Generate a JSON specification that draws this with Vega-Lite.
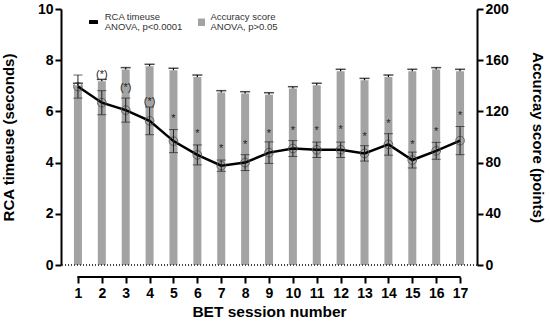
{
  "$schema": "https://vega.github.io/schema/vega-lite/v6.json",
  "width": 416,
  "height": 256,
  "autosize": {"type": "none"},
  "padding": {"left": 61, "top": 9, "right": 73, "bottom": 58},
  "config": {
    "view": {"stroke": null},
    "font": "Liberation Sans",
    "axis": {
      "grid": false,
      "domainColor": "black",
      "domainWidth": 2,
      "tickColor": "black",
      "tickWidth": 2,
      "tickSize": 6,
      "labelFont": "Liberation Sans",
      "labelFontWeight": "bold",
      "labelFontSize": 14,
      "labelColor": "black",
      "titleFont": "Liberation Sans",
      "titleFontWeight": "bold",
      "titleFontSize": 15,
      "titleColor": "black"
    },
    "axisX": {"labelOverlap": false, "labelFlush": false, "titleFontSize": 15.5}
  },
  "datasets": {
    "main": [
      {"s": 1, "acc": 140.5, "acc_hi": 142.0, "rca": 6.97, "lo": 6.52, "hi": 7.42},
      {"s": 2, "acc": 143.5, "acc_hi": 145.0, "rca": 6.34, "lo": 5.87, "hi": 6.81},
      {"s": 3, "acc": 152.7, "acc_hi": 154.2, "rca": 6.05, "lo": 5.58, "hi": 6.52},
      {"s": 4, "acc": 155.3, "acc_hi": 156.8, "rca": 5.63, "lo": 5.09, "hi": 6.17},
      {"s": 5, "acc": 152.2, "acc_hi": 153.7, "rca": 4.84, "lo": 4.39, "hi": 5.29},
      {"s": 6, "acc": 146.9, "acc_hi": 148.4, "rca": 4.30, "lo": 3.91, "hi": 4.69},
      {"s": 7, "acc": 134.7, "acc_hi": 136.2, "rca": 3.88, "lo": 3.66, "hi": 4.10},
      {"s": 8, "acc": 133.9, "acc_hi": 135.4, "rca": 4.00, "lo": 3.69, "hi": 4.31},
      {"s": 9, "acc": 133.1, "acc_hi": 134.6, "rca": 4.39, "lo": 3.97, "hi": 4.81},
      {"s": 10, "acc": 137.8, "acc_hi": 139.3, "rca": 4.55, "lo": 4.24, "hi": 4.86},
      {"s": 11, "acc": 140.5, "acc_hi": 142.0, "rca": 4.50, "lo": 4.20, "hi": 4.80},
      {"s": 12, "acc": 151.4, "acc_hi": 152.9, "rca": 4.50, "lo": 4.20, "hi": 4.80},
      {"s": 13, "acc": 144.3, "acc_hi": 145.8, "rca": 4.36, "lo": 4.06, "hi": 4.66},
      {"s": 14, "acc": 146.9, "acc_hi": 148.4, "rca": 4.71, "lo": 4.29, "hi": 5.13},
      {"s": 15, "acc": 151.4, "acc_hi": 152.9, "rca": 4.10, "lo": 3.79, "hi": 4.41},
      {"s": 16, "acc": 152.7, "acc_hi": 154.2, "rca": 4.46, "lo": 4.13, "hi": 4.79},
      {"s": 17, "acc": 151.4, "acc_hi": 152.9, "rca": 4.86, "lo": 4.31, "hi": 5.41}
    ],
    "stars": [
      {"s": 2, "label": "(*)", "y": 7.53},
      {"s": 3, "label": "(*)", "y": 7.03},
      {"s": 4, "label": "(*)", "y": 6.47},
      {"s": 5, "label": "*", "y": 5.82},
      {"s": 6, "label": "*", "y": 5.25},
      {"s": 7, "label": "*", "y": 4.65},
      {"s": 8, "label": "*", "y": 4.80},
      {"s": 9, "label": "*", "y": 5.25},
      {"s": 10, "label": "*", "y": 5.34},
      {"s": 11, "label": "*", "y": 5.36},
      {"s": 12, "label": "*", "y": 5.40},
      {"s": 13, "label": "*", "y": 5.12},
      {"s": 14, "label": "*", "y": 5.64},
      {"s": 15, "label": "*", "y": 4.82},
      {"s": 16, "label": "*", "y": 5.31},
      {"s": 17, "label": "*", "y": 5.92}
    ]
  },
  "layer": [
    {
      "data": {"name": "main"},
      "layer": [
        {
          "mark": {"type": "bar", "width": 8, "color": "#a3a3a3"},
          "encoding": {
            "x": {
              "field": "s", "type": "quantitative",
              "scale": {"domain": [0.5, 17.5], "nice": false, "zero": false},
              "axis": {
                "values": [1,2,3,4,5,6,7,8,9,10,11,12,13,14,15,16,17],
                "tickCount": 17, "offset": 12, "domain": false, "labelPadding": 3, "titlePadding": 4,
                "labelFlush": false, "labelOverlap": false, "labelSeparation": 0,
                "title": "BET session number"
              }
            },
            "y": {
              "field": "acc", "type": "quantitative",
              "scale": {"domain": [0, 200], "nice": false},
              "axis": {
                "orient": "right", "values": [0,20,40,60,80,100,120,140,160,180,200],
                "labelPadding": 2, "titlePadding": 21, "title": "Accurcay score (points)"
              }
            }
          }
        },
        {
          "mark": {"type": "rule", "color": "black", "strokeWidth": 1.2},
          "encoding": {
            "x": {"field": "s", "type": "quantitative"},
            "y": {"field": "acc", "type": "quantitative"},
            "y2": {"field": "acc_hi"}
          }
        },
        {
          "mark": {"type": "tick", "orient": "horizontal", "color": "black", "size": 10, "thickness": 1.5},
          "encoding": {
            "x": {"field": "s", "type": "quantitative"},
            "y": {"field": "acc_hi", "type": "quantitative"}
          }
        }
      ]
    },
    {
      "layer": [
        {
          "data": {"name": "main"},
          "mark": {"type": "rule", "color": "#444", "strokeWidth": 1, "strokeDash": [1, 2]},
          "encoding": {
            "y": {
              "datum": 0, "type": "quantitative",
              "scale": {"domain": [0, 10], "nice": false},
              "axis": {
                "orient": "left", "values": [0,2,4,6,8,10],
                "labelPadding": 2, "titlePadding": 21, "title": "RCA timeuse (seconds)"
              }
            }
          }
        },
        {
          "data": {"name": "main"},
          "mark": {"type": "rule", "color": "black", "strokeWidth": 2},
          "encoding": {
            "x": {"datum": 1, "type": "quantitative", "axis": {
                "values": [1,2,3,4,5,6,7,8,9,10,11,12,13,14,15,16,17],
                "tickCount": 17, "offset": 12, "domain": false, "labelPadding": 3, "titlePadding": 4,
                "labelFlush": false, "labelOverlap": false, "labelSeparation": 0,
                "title": "BET session number"
              }},
            "x2": {"datum": 17},
            "y": {"datum": -0.47, "type": "quantitative"}
          }
        },
        {
          "data": {"name": "main"},
          "mark": {"type": "line", "color": "black", "strokeWidth": 2.5},
          "encoding": {
            "x": {"field": "s", "type": "quantitative", "axis": {
                "values": [1,2,3,4,5,6,7,8,9,10,11,12,13,14,15,16,17],
                "tickCount": 17, "offset": 12, "domain": false, "labelPadding": 3, "titlePadding": 4,
                "labelFlush": false, "labelOverlap": false, "labelSeparation": 0,
                "title": "BET session number"
              }},
            "y": {"field": "rca", "type": "quantitative"}
          }
        },
        {
          "data": {"name": "main"},
          "mark": {"type": "point", "shape": "circle", "size": 75, "filled": false, "stroke": "#555", "strokeWidth": 0.9, "opacity": 1},
          "encoding": {
            "x": {"field": "s", "type": "quantitative"},
            "y": {"field": "rca", "type": "quantitative"}
          }
        },
        {
          "data": {"name": "main"},
          "mark": {"type": "rule", "color": "#222", "strokeWidth": 1},
          "encoding": {
            "x": {"field": "s", "type": "quantitative"},
            "y": {"field": "lo", "type": "quantitative"},
            "y2": {"field": "hi"}
          }
        },
        {
          "data": {"name": "main"},
          "mark": {"type": "tick", "orient": "horizontal", "color": "#222", "size": 9, "thickness": 1},
          "encoding": {
            "x": {"field": "s", "type": "quantitative"},
            "y": {"field": "lo", "type": "quantitative"}
          }
        },
        {
          "data": {"name": "main"},
          "mark": {"type": "tick", "orient": "horizontal", "color": "#222", "size": 9, "thickness": 1},
          "encoding": {
            "x": {"field": "s", "type": "quantitative"},
            "y": {"field": "hi", "type": "quantitative"}
          }
        },
        {
          "data": {"name": "stars"},
          "mark": {"type": "text", "align": "center", "baseline": "middle", "fontSize": 11, "color": "#222", "dy": 3},
          "encoding": {
            "x": {"field": "s", "type": "quantitative"},
            "y": {"field": "y", "type": "quantitative"},
            "text": {"field": "label"}
          }
        },
        {
          "data": {"name": "main"},
          "mark": {"type": "rule", "color": "black", "strokeWidth": 3},
          "encoding": {
            "x": {"datum": 1.48, "type": "quantitative"},
            "x2": {"datum": 1.82},
            "y": {"datum": 9.48, "type": "quantitative"}
          }
        },
        {
          "data": {"name": "main"},
          "mark": {"type": "point", "shape": "square", "size": 45, "filled": true, "color": "#a3a3a3", "opacity": 1},
          "encoding": {
            "x": {"datum": 6.17, "type": "quantitative"},
            "y": {"datum": 9.48, "type": "quantitative"}
          }
        },
        {
          "data": {"values": [
            {"t": "RCA timeuse", "tx": 2.12, "ty": 9.70, "it": "normal"},
            {"t": "ANOVA, ", "tx": 2.12, "ty": 9.31, "it": "normal"},
            {"t": "p<0.0001", "tx": 3.70, "ty": 9.31, "it": "italic"},
            {"t": "Accuracy score", "tx": 6.55, "ty": 9.70, "it": "normal"},
            {"t": "ANOVA, ", "tx": 6.55, "ty": 9.31, "it": "normal"},
            {"t": "p>0.05", "tx": 8.13, "ty": 9.31, "it": "italic"}
          ]},
          "mark": {"type": "text", "align": "left", "baseline": "middle", "fontSize": 9.5, "color": "#333"},
          "encoding": {
            "x": {"field": "tx", "type": "quantitative"},
            "y": {"field": "ty", "type": "quantitative"},
            "text": {"field": "t"},
            "fontStyle": {"field": "it", "type": "nominal", "scale": null}
          }
        }
      ]
    }
  ],
  "resolve": {"scale": {"y": "independent"}}
}
